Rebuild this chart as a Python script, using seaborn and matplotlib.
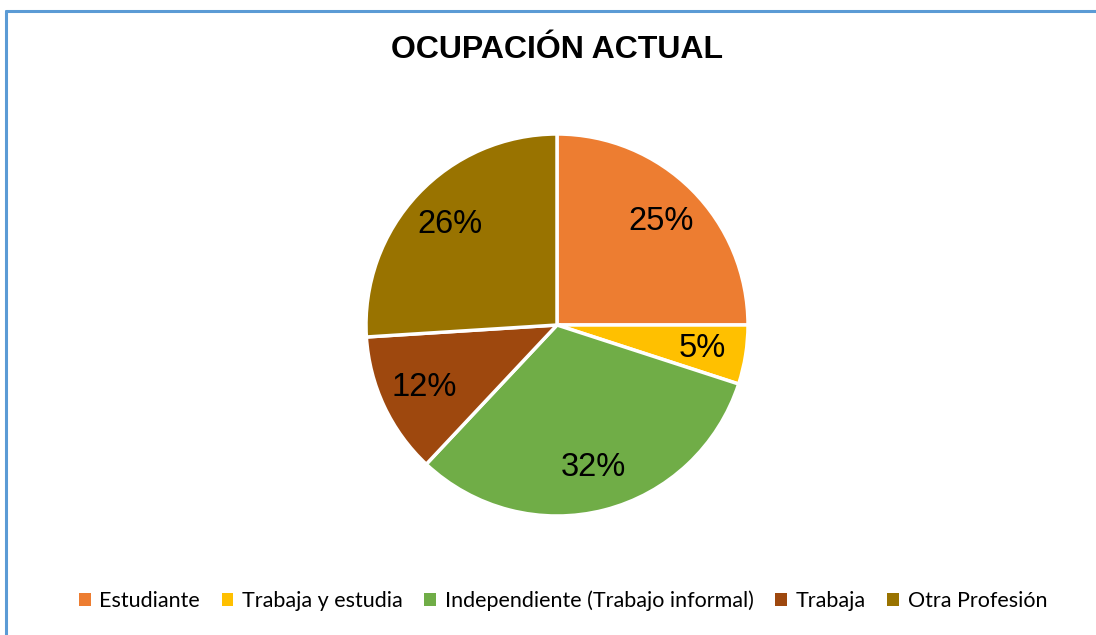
import seaborn as sns
import matplotlib.pyplot as plt
from matplotlib.lines import Line2D
from matplotlib.patches import Patch

categorias = ['Estudiante', 'Trabaja y estudia', 'Independiente (Trabajo informal)', 'Trabaja', 'Otra Profesión']
porcentajes = [25, 5, 32, 12, 26]
colores = ['#ED7D31', '#FFC000', '#70AD47', '#9E480E', '#997300']

sns.set_theme(style='white')
plt.rcParams['font.family'] = ['Liberation Sans', 'DejaVu Sans']
plt.rcParams['text.color'] = 'black'
paleta = sns.color_palette(colores)

fig = plt.figure(figsize=(10.96, 6.35), dpi=100)

# pie centred around (557, 325) px, radius ~191 px
ax = fig.add_axes([(557 - 191) / 1096, (635 - 516) / 635, 382 / 1096, 382 / 635])
wedges, textos, pcts = ax.pie(porcentajes, colors=paleta, startangle=90, counterclock=False,
                              autopct='%1.0f%%', pctdistance=0.77, radius=1,
                              wedgeprops=dict(edgecolor='white', linewidth=2.5),
                              textprops=dict(fontsize=23.5, color='black'))
for w in wedges:
    w.set_clip_on(False)
ax.set_xlim(-1, 1)
ax.set_ylim(-1, 1)
ax.set_aspect('equal')
ax.axis('off')

fig.text(557 / 1096, 1 - 50 / 635, 'OCUPACIÓN ACTUAL', ha='center', va='center',
         fontsize=23, fontweight='bold', color='black')

# Leyenda
handles = [Patch(facecolor=c, edgecolor='none') for c in paleta]
fig.legend(handles, categorias, loc='center', bbox_to_anchor=(563 / 1096, 1 - 601 / 635),
           ncol=5, frameon=False, handlelength=0.55, handleheight=0.55,
           handletextpad=0.4, columnspacing=1.0, labelcolor='black',
           prop={'family': ['Lato', 'DejaVu Sans'], 'size': 15.5})

# borde azul (solo arriba e izquierda visibles)
x0, y0 = 6 / 1096, 1 - 11 / 635
fig.add_artist(Line2D([x0, 1], [y0, y0], color='#5B9BD5', linewidth=2.2, transform=fig.transFigure))
fig.add_artist(Line2D([x0, x0], [0, y0], color='#5B9BD5', linewidth=2.2, transform=fig.transFigure))

fig.savefig('out.png', dpi=100, facecolor='white')
